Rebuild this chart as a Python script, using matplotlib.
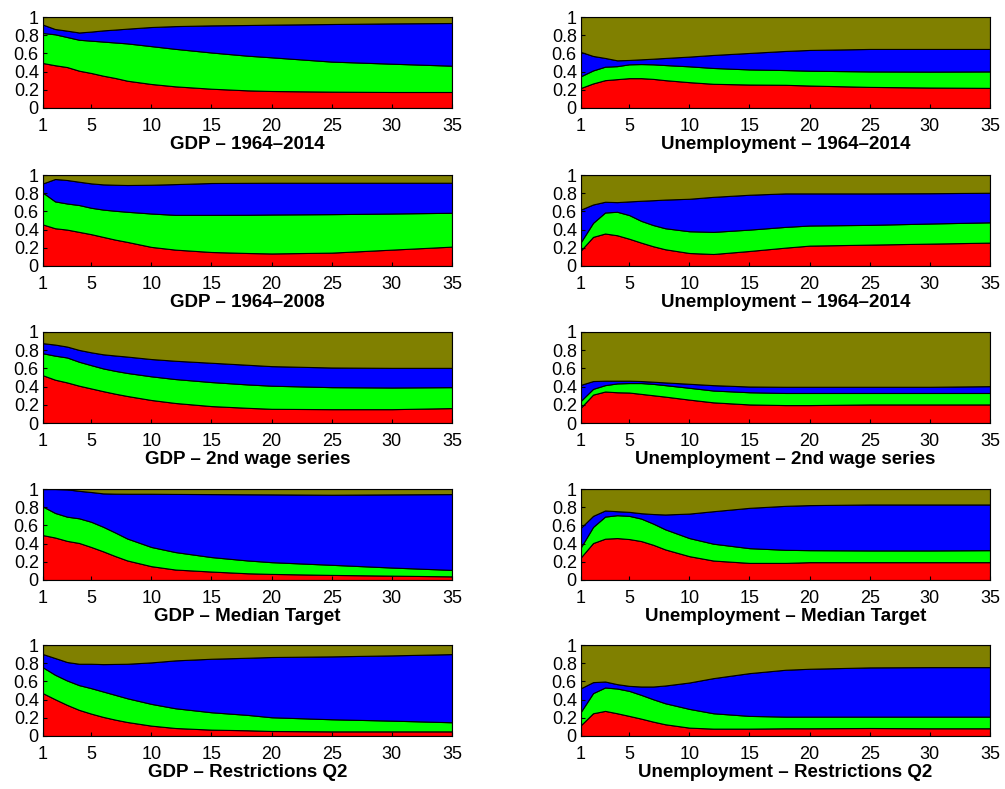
import numpy as np
import matplotlib
matplotlib.use("Agg")
import matplotlib.pyplot as plt

plt.rcParams.update({
    "font.family": ["Liberation Sans", "DejaVu Sans"],
    "font.size": 13,
})

# horizon (quarters) at which the boundaries were read
horizon = [1, 2, 3, 4, 5, 6, 7, 8, 10, 12, 15, 18, 20, 25, 30, 35]

# cumulative shares: top of red, top of green, top of blue (olive fills to 1)
gdp_full_red = [0.494, 0.47, 0.45, 0.41, 0.385, 0.355, 0.33, 0.30, 0.264, 0.238, 0.212, 0.194, 0.187, 0.18, 0.176, 0.176]
gdp_full_green = [0.824, 0.81, 0.78, 0.75, 0.74, 0.73, 0.72, 0.71, 0.68, 0.65, 0.61, 0.575, 0.557, 0.51, 0.487, 0.465]
gdp_full_blue = [0.916, 0.868, 0.85, 0.83, 0.84, 0.853, 0.862, 0.872, 0.89, 0.90, 0.908, 0.912, 0.916, 0.923, 0.93, 0.934]

unemp_full_red = [0.221, 0.27, 0.306, 0.317, 0.328, 0.328, 0.32, 0.306, 0.284, 0.266, 0.258, 0.255, 0.247, 0.232, 0.225, 0.221]
unemp_full_green = [0.35, 0.413, 0.454, 0.46, 0.48, 0.483, 0.48, 0.472, 0.458, 0.44, 0.424, 0.417, 0.41, 0.402, 0.40, 0.402]
unemp_full_blue = [0.616, 0.572, 0.55, 0.524, 0.528, 0.535, 0.542, 0.55, 0.565, 0.583, 0.605, 0.627, 0.638, 0.649, 0.649, 0.649]

gdp_2008_red = [0.456, 0.415, 0.40, 0.375, 0.35, 0.32, 0.29, 0.265, 0.21, 0.18, 0.154, 0.143, 0.138, 0.147, 0.18, 0.213]
gdp_2008_green = [0.805, 0.71, 0.687, 0.67, 0.64, 0.62, 0.607, 0.596, 0.577, 0.562, 0.562, 0.563, 0.566, 0.57, 0.577, 0.585]
gdp_2008_blue = [0.908, 0.956, 0.945, 0.926, 0.908, 0.897, 0.893, 0.89, 0.893, 0.9, 0.912, 0.914, 0.915, 0.915, 0.915, 0.915]

unemp_2014b_red = [0.173, 0.32, 0.357, 0.338, 0.30, 0.257, 0.217, 0.184, 0.143, 0.132, 0.165, 0.202, 0.224, 0.235, 0.246, 0.257]
unemp_2014b_green = [0.265, 0.474, 0.588, 0.596, 0.56, 0.496, 0.45, 0.415, 0.382, 0.375, 0.40, 0.43, 0.445, 0.452, 0.467, 0.48]
unemp_2014b_blue = [0.621, 0.676, 0.706, 0.702, 0.71, 0.717, 0.723, 0.73, 0.739, 0.76, 0.783, 0.798, 0.798, 0.798, 0.80, 0.805]

gdp_wage2_red = [0.524, 0.476, 0.446, 0.41, 0.38, 0.35, 0.322, 0.297, 0.253, 0.22, 0.186, 0.167, 0.156, 0.152, 0.152, 0.164]
gdp_wage2_green = [0.766, 0.74, 0.72, 0.673, 0.636, 0.60, 0.573, 0.55, 0.513, 0.483, 0.45, 0.424, 0.41, 0.394, 0.39, 0.394]
gdp_wage2_blue = [0.877, 0.862, 0.84, 0.803, 0.777, 0.755, 0.742, 0.73, 0.703, 0.684, 0.662, 0.64, 0.625, 0.61, 0.606, 0.606]

unemp_wage2_red = [0.171, 0.312, 0.346, 0.338, 0.335, 0.32, 0.305, 0.29, 0.257, 0.227, 0.204, 0.197, 0.197, 0.204, 0.204, 0.204]
unemp_wage2_green = [0.245, 0.375, 0.416, 0.435, 0.439, 0.439, 0.43, 0.416, 0.387, 0.357, 0.338, 0.33, 0.33, 0.33, 0.33, 0.33]
unemp_wage2_blue = [0.42, 0.461, 0.465, 0.465, 0.465, 0.461, 0.454, 0.446, 0.431, 0.416, 0.401, 0.398, 0.398, 0.398, 0.398, 0.405]

gdp_median_red = [0.493, 0.467, 0.43, 0.407, 0.363, 0.315, 0.263, 0.215, 0.152, 0.115, 0.093, 0.074, 0.067, 0.056, 0.048, 0.04]
gdp_median_green = [0.807, 0.737, 0.696, 0.678, 0.64, 0.585, 0.522, 0.456, 0.363, 0.307, 0.252, 0.215, 0.196, 0.167, 0.137, 0.111]
gdp_median_blue = [1.0, 1.0, 0.996, 0.98, 0.967, 0.952, 0.949, 0.948, 0.948, 0.946, 0.944, 0.942, 0.941, 0.937, 0.941, 0.944]

unemp_median_red = [0.251, 0.406, 0.454, 0.461, 0.45, 0.428, 0.387, 0.336, 0.262, 0.214, 0.188, 0.188, 0.196, 0.196, 0.196, 0.196]
unemp_median_green = [0.362, 0.583, 0.697, 0.712, 0.705, 0.675, 0.62, 0.557, 0.461, 0.399, 0.35, 0.332, 0.328, 0.325, 0.325, 0.328]
unemp_median_blue = [0.576, 0.705, 0.764, 0.756, 0.749, 0.734, 0.725, 0.72, 0.73, 0.756, 0.793, 0.815, 0.823, 0.83, 0.83, 0.83]

gdp_q2_red = [0.47, 0.404, 0.342, 0.287, 0.246, 0.21, 0.18, 0.154, 0.114, 0.088, 0.07, 0.063, 0.055, 0.051, 0.051, 0.051]
gdp_q2_green = [0.754, 0.673, 0.61, 0.559, 0.526, 0.489, 0.452, 0.415, 0.353, 0.305, 0.261, 0.232, 0.206, 0.184, 0.169, 0.151]
gdp_q2_blue = [0.9, 0.857, 0.813, 0.794, 0.794, 0.79, 0.792, 0.794, 0.809, 0.831, 0.849, 0.86, 0.868, 0.875, 0.886, 0.9]

unemp_q2_red = [0.121, 0.25, 0.276, 0.25, 0.221, 0.191, 0.158, 0.129, 0.092, 0.081, 0.081, 0.085, 0.085, 0.088, 0.085, 0.085]
unemp_q2_green = [0.268, 0.471, 0.533, 0.522, 0.496, 0.452, 0.404, 0.36, 0.298, 0.25, 0.221, 0.213, 0.213, 0.213, 0.213, 0.213]
unemp_q2_blue = [0.526, 0.592, 0.599, 0.57, 0.551, 0.544, 0.544, 0.555, 0.588, 0.636, 0.691, 0.728, 0.739, 0.754, 0.757, 0.757]

titles = [
    "GDP \u2013 1964\u20132014", "Unemployment \u2013 1964\u20132014",
    "GDP \u2013 1964\u20132008", "Unemployment \u2013 1964\u20132014",
    "GDP \u2013 2nd wage series", "Unemployment \u2013 2nd wage series",
    "GDP \u2013 Median Target", "Unemployment \u2013 Median Target",
    "GDP \u2013 Restrictions Q2", "Unemployment \u2013 Restrictions Q2",
]
panels = [
    (gdp_full_red, gdp_full_green, gdp_full_blue),
    (unemp_full_red, unemp_full_green, unemp_full_blue),
    (gdp_2008_red, gdp_2008_green, gdp_2008_blue),
    (unemp_2014b_red, unemp_2014b_green, unemp_2014b_blue),
    (gdp_wage2_red, gdp_wage2_green, gdp_wage2_blue),
    (unemp_wage2_red, unemp_wage2_green, unemp_wage2_blue),
    (gdp_median_red, gdp_median_green, gdp_median_blue),
    (unemp_median_red, unemp_median_green, unemp_median_blue),
    (gdp_q2_red, gdp_q2_green, gdp_q2_blue),
    (unemp_q2_red, unemp_q2_green, unemp_q2_blue),
]
colors = ["#ff0000", "#00ff00", "#0000ff", "#808000"]

fig = plt.figure(figsize=(10.05, 7.89), dpi=100)
W, H = 1005.0, 789.0
col_left = [43, 581]
ax_w = 409
ax_h = 91
row_top = [17, 175, 332, 489, 645]

x = np.array(horizon)
for k, (title, bounds) in enumerate(zip(titles, panels)):
    r, c = divmod(k, 2)
    ax = fig.add_axes([col_left[c] / W, 1 - (row_top[r] + ax_h) / H, ax_w / W, ax_h / H])
    levels = [np.zeros(len(x))] + [np.array(b) for b in bounds] + [np.ones(len(x))]
    for i in range(4):
        ax.fill_between(x, levels[i], levels[i + 1], facecolor=colors[i],
                        edgecolor="black", linewidth=0.8)
    ax.set_xlim(1, 35)
    ax.set_ylim(0, 1)
    ax.set_xticks([1, 5, 10, 15, 20, 25, 30, 35])
    ax.set_yticks([0, 0.2, 0.4, 0.6, 0.8, 1])
    ax.set_yticklabels(["0", "0.2", "0.4", "0.6", "0.8", "1"])
    ax.tick_params(direction="in", length=3, labelsize=13)
    ax.tick_params(axis="x", pad=7)
    ax.tick_params(axis="y", pad=3)
    for s in ax.spines.values():
        s.set_linewidth(0.8)
    ax.set_xlabel(title, fontweight="bold", fontsize=13.5, labelpad=1)

fig.savefig("out.png", dpi=100)
